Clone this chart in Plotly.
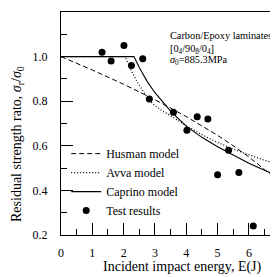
import plotly.graph_objects as go

# Test results
test_E = [1.31, 1.60, 2.01, 2.25, 2.61, 2.82, 3.59, 4.02, 4.35, 4.69, 5.00, 5.35, 5.68, 6.14]
test_R = [1.02, 0.98, 1.05, 0.96, 0.99, 0.81, 0.75, 0.67, 0.73, 0.72, 0.47, 0.58, 0.48, 0.24]

# Husman model (dashed)
hus_E = [0, 1, 2, 3, 4, 5, 5.5, 6, 6.5, 7]
hus_R = [1.0, 0.94, 0.876, 0.807, 0.731, 0.647, 0.600, 0.550, 0.494, 0.431]

# Avva model (dotted)
avva_E = [0, 2.05, 2.25, 2.42, 2.6, 2.8, 3.0, 3.25, 3.5, 4.0, 4.5, 5.0, 5.5, 6.0, 6.5, 7.0]
avva_R = [1.0, 1.0, 0.935, 0.89, 0.85, 0.807, 0.78, 0.755, 0.735, 0.69, 0.65, 0.615, 0.585, 0.56, 0.535, 0.515]

# Caprino model (solid)
cap_E = [0, 2.33, 2.5, 2.75, 3.0, 3.25, 3.5, 4.0, 4.5, 5.0, 5.5, 6.0, 6.5, 7.0]
cap_R = [1.0, 1.0, 0.951, 0.889, 0.838, 0.795, 0.755, 0.688, 0.638, 0.596, 0.558, 0.522, 0.49, 0.46]

FONT = "'Liberation Serif', 'Times New Roman', serif"

fig = go.Figure()
fig.add_trace(go.Scatter(x=hus_E, y=hus_R, mode="lines", name="Husman model",
                         line=dict(color="black", width=1, dash="5px,3px")))
fig.add_trace(go.Scatter(x=avva_E, y=avva_R, mode="lines", name="Avva model",
                         line=dict(color="black", width=1.2, dash="1px,2px")))
fig.add_trace(go.Scatter(x=cap_E, y=cap_R, mode="lines", name="Caprino model",
                         line=dict(color="black", width=1.1)))
fig.add_trace(go.Scatter(x=test_E, y=test_R, mode="markers", name="Test results",
                         marker=dict(color="black", size=7)))

# page has an 8px body margin: figure is 270x269, shifted by (8, 8)
fig.update_layout(
    width=270, height=269,
    margin=dict(l=53, r=0, t=4, b=42),
    paper_bgcolor="white", plot_bgcolor="white",
    font=dict(family=FONT, size=12, color="black"),
    showlegend=True,
    legend=dict(x=0.024, y=0.43, xanchor="left", yanchor="top",
                bgcolor="rgba(0,0,0,0)", font=dict(family=FONT, size=12),
                tracegroupgap=0),
    xaxis=dict(range=[0, 6.93], tick0=0, dtick=1, ticks="inside", ticklen=12,
               tickwidth=1, tickcolor="black", showgrid=False, zeroline=False,
               showline=True, linecolor="black", linewidth=1.3, mirror=True,
               minor=dict(dtick=0.5, ticks="inside", ticklen=6, tickwidth=1,
                          tickcolor="black", showgrid=False),
               tickfont=dict(family=FONT, size=12), ticklabelstandoff=6),
    yaxis=dict(range=[0.2, 1.2], tick0=0.2, dtick=0.2, ticks="inside", ticklen=12,
               tickwidth=1, tickcolor="black", showgrid=False, zeroline=False,
               showline=True, linecolor="black", linewidth=1.3, mirror=False,
               tickformat=".1f",
               minor=dict(dtick=0.1, ticks="inside", ticklen=6, tickwidth=1,
                          tickcolor="black", showgrid=False),
               tickfont=dict(family=FONT, size=12), ticklabelstandoff=10),
)

# page-pixel -> paper coordinates (plot area spans page x 61..278, y 12..235)
px_x = lambda p: (p - 61) / 217.0
px_y = lambda p: (235 - p) / 223.0

annos = [
    dict(text="Carbon/Epoxy laminates", x=px_x(168), y=px_y(36)),
    dict(text="[0<sub>4</sub>/90<sub>8</sub>/0<sub>4</sub>]", x=px_x(168), y=px_y(49)),
    dict(text="<i>σ</i><sub>0</sub>=885.3MPa", x=px_x(168), y=px_y(61)),
]
for a in annos:
    fig.add_annotation(text=a["text"], x=a["x"], y=a["y"], xref="paper", yref="paper",
                       xanchor="left", yanchor="middle", showarrow=False,
                       font=dict(family=FONT, size=10.3, color="black"))

fig.add_annotation(text="Incident impact energy, E(J)", x=px_x(182.5), y=px_y(267),
                   xref="paper", yref="paper", xanchor="center", yanchor="middle",
                   showarrow=False, font=dict(family=FONT, size=14, color="black"))
fig.add_annotation(text="Residual strength rato, <i>σ</i><sub>r</sub>/<i>σ</i><sub>0</sub>",
                   x=px_x(18), y=px_y(144), xref="paper", yref="paper",
                   xanchor="center", yanchor="middle", textangle=-90,
                   showarrow=False, font=dict(family=FONT, size=14, color="black"))

fig.write_html("out.html")
